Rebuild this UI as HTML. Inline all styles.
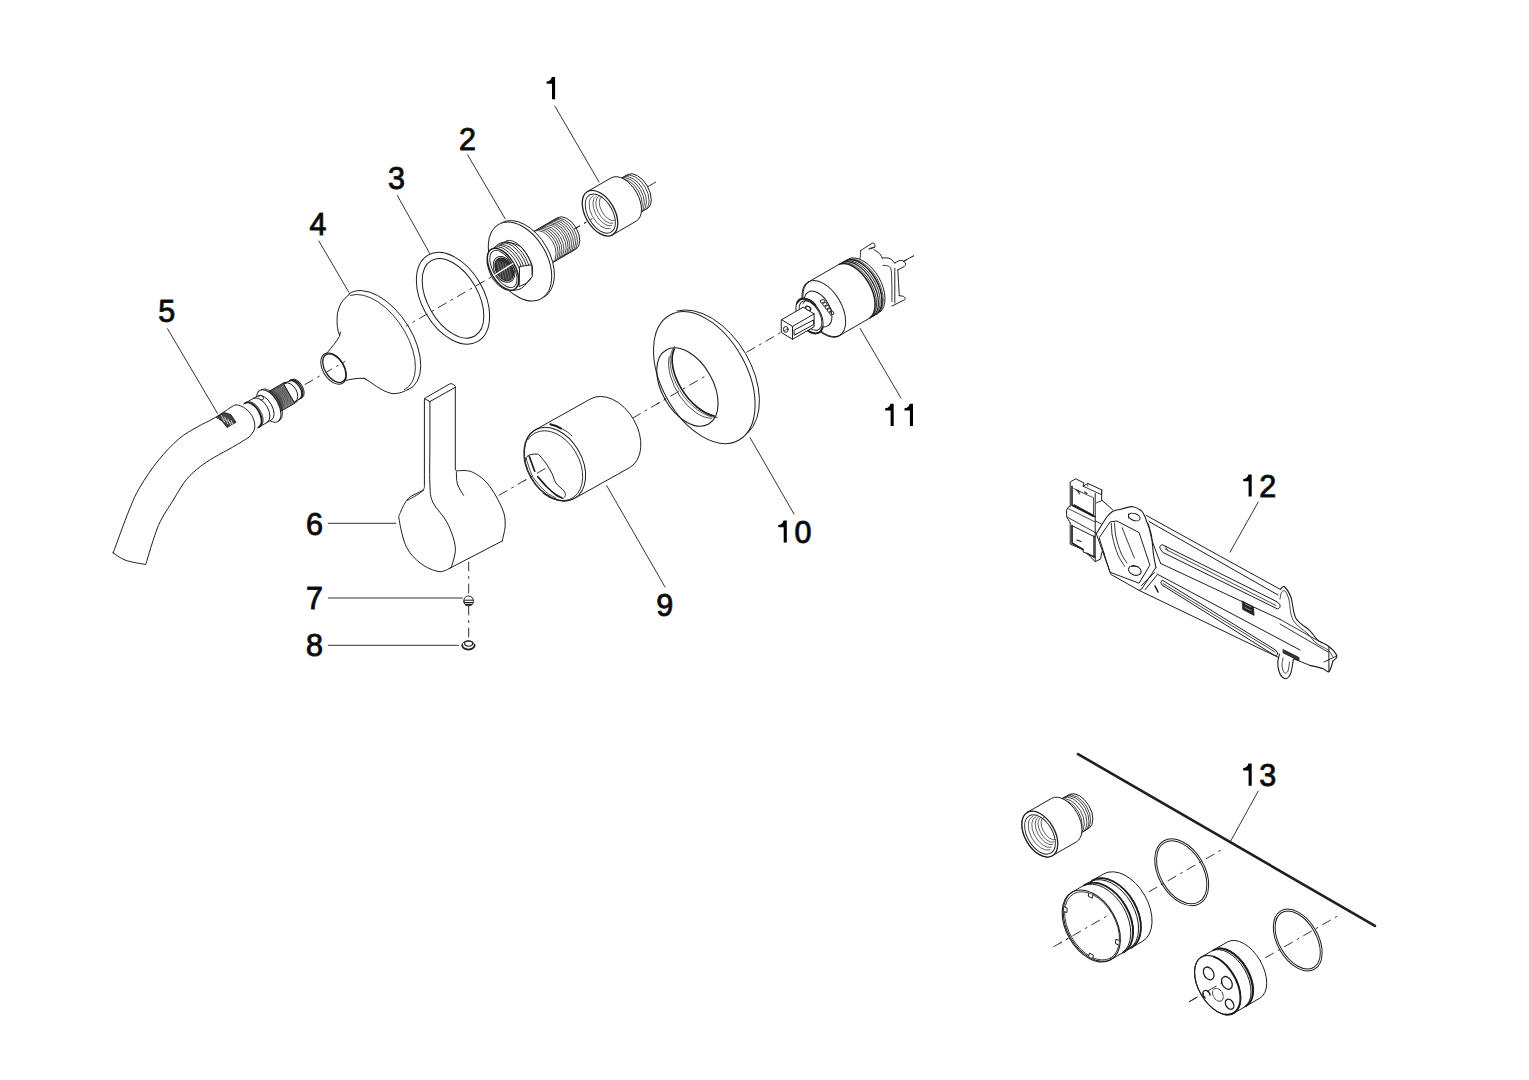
<!DOCTYPE html>
<html><head><meta charset="utf-8"><style>
html,body{margin:0;padding:0;background:#fff;width:1529px;height:1080px;overflow:hidden}
svg{position:absolute;left:0;top:0}
text{font-family:"Liberation Sans",sans-serif;font-size:30.5px;fill:#000}
</style></head><body>
<svg width="1529" height="1080" viewBox="0 0 1529 1080" stroke="#1e1e1e" stroke-linecap="round" stroke-linejoin="round" fill="none">
<line x1="305" y1="384.5" x2="660" y2="179.6" stroke-width="0.9" stroke-dasharray="9 5.5 2 5.5" stroke-dashoffset="0"/>
<line x1="499.1" y1="495.2" x2="913.5" y2="255.9" stroke-width="0.9" stroke-dasharray="9 5.5 2 5.5" stroke-dashoffset="0"/>
<line x1="468.7" y1="562" x2="468.7" y2="640" stroke-width="0.9" stroke-dasharray="9 5.5 2 5.5" stroke-dashoffset="0"/>
<line x1="1053.7" y1="946.7" x2="1222.8" y2="849.1" stroke-width="0.9" stroke-dasharray="9 5.5 2 5.5" stroke-dashoffset="0"/>
<line x1="1189.3" y1="1001.7" x2="1338.9" y2="915.3" stroke-width="0.9" stroke-dasharray="9 5.5 2 5.5" stroke-dashoffset="0"/>
<path d="M5.2 0 L8.5 0 L8.5 22.2 L5.4 22.2 L5.4 6.8 L0 6.8 L0 4.5 C2.6 4.4 4.6 3.0 5.2 0 Z" transform="translate(546.6 77)" fill="#000" stroke="none"/>
<text x="458.9" y="149.6">2</text>
<text x="387.9" y="189.4">3</text>
<text x="309.4" y="234.9">4</text>
<text x="158.2" y="321.9">5</text>
<text x="305.9" y="535">6</text>
<text x="305.9" y="609">7</text>
<text x="305.9" y="656.1">8</text>
<text x="656.3" y="615.9">9</text>
<path d="M5.2 0 L8.5 0 L8.5 22.2 L5.4 22.2 L5.4 6.8 L0 6.8 L0 4.5 C2.6 4.4 4.6 3.0 5.2 0 Z" transform="translate(778.3 520.4)" fill="#000" stroke="none"/>
<text x="794.4" y="542.9">0</text>
<path d="M5.2 0 L8.5 0 L8.5 22.2 L5.4 22.2 L5.4 6.8 L0 6.8 L0 4.5 C2.6 4.4 4.6 3.0 5.2 0 Z" transform="translate(885.2 403.7)" fill="#000" stroke="none"/>
<path d="M5.2 0 L8.5 0 L8.5 22.2 L5.4 22.2 L5.4 6.8 L0 6.8 L0 4.5 C2.6 4.4 4.6 3.0 5.2 0 Z" transform="translate(904.5 403.7)" fill="#000" stroke="none"/>
<path d="M5.2 0 L8.5 0 L8.5 22.2 L5.4 22.2 L5.4 6.8 L0 6.8 L0 4.5 C2.6 4.4 4.6 3.0 5.2 0 Z" transform="translate(1243.2 474.4)" fill="#000" stroke="none"/>
<text x="1259.3" y="496.9">2</text>
<path d="M5.2 0 L8.5 0 L8.5 22.2 L5.4 22.2 L5.4 6.8 L0 6.8 L0 4.5 C2.6 4.4 4.6 3.0 5.2 0 Z" transform="translate(1243.2 763.6)" fill="#000" stroke="none"/>
<text x="1259.3" y="786.1">3</text>
<line x1="554.9" y1="106.1" x2="599" y2="182" stroke-width="0.9" />
<line x1="467.6" y1="154.8" x2="505.2" y2="218.9" stroke-width="0.9" />
<line x1="397.3" y1="195.4" x2="429.8" y2="253.6" stroke-width="0.9" />
<line x1="318.9" y1="241" x2="348.8" y2="292.2" stroke-width="0.9" />
<line x1="167.5" y1="328.7" x2="217.5" y2="413.4" stroke-width="0.9" />
<line x1="328.3" y1="523.3" x2="395.8" y2="523.3" stroke-width="0.9" />
<line x1="328.3" y1="598" x2="462.5" y2="598" stroke-width="0.9" />
<line x1="328.3" y1="645.3" x2="458.3" y2="645.3" stroke-width="0.9" />
<line x1="665" y1="587" x2="606.7" y2="485.6" stroke-width="0.9" />
<line x1="794" y1="514" x2="750" y2="437.5" stroke-width="0.9" />
<line x1="901" y1="398.2" x2="860" y2="328.3" stroke-width="0.9" />
<line x1="1258.2" y1="502.1" x2="1230" y2="552.2" stroke-width="0.9" />
<line x1="1258.2" y1="791.1" x2="1230.9" y2="840.7" stroke-width="0.9" />
<line x1="1078" y1="754.1" x2="1375" y2="925.9" stroke-width="2.6" />
<ellipse cx="453" cy="298.3" rx="49.8" ry="31" transform="rotate(60 453 298.3)" fill="none" stroke-width="1.0" />
<ellipse cx="453" cy="298.3" rx="43.5" ry="25.2" transform="rotate(60 453 298.3)" fill="none" stroke-width="1.0" />
<ellipse cx="1181.7" cy="872.3" rx="36.2" ry="23.1" transform="rotate(60 1181.7 872.3)" fill="none" stroke-width="1.0" />
<ellipse cx="1181.7" cy="872.3" rx="34.2" ry="21.3" transform="rotate(60 1181.7 872.3)" fill="none" stroke-width="1.0" />
<ellipse cx="1297.7" cy="940" rx="33.7" ry="20.4" transform="rotate(60 1297.7 940)" fill="none" stroke-width="1.0" />
<ellipse cx="1297.7" cy="940" rx="31.7" ry="18.6" transform="rotate(60 1297.7 940)" fill="none" stroke-width="1.0" />
<path d="M349.4 294.4 C343 299 338 306 337.2 316 C336.8 324 337.5 330 339.4 334.6 C337 340 332 347 326.7 353.3 L321 362 L340 384.4 L343.3 381.1 C350 379 358 378 364.4 378.3 C372 382 380 391 392 393.6 C400 394 405 391 408 389.4 L419 370 L418 350 L400 315 L380 300 L362 291 Z" stroke-width="0" fill="#fff" stroke="none"/>
<path d="M349 293.8A56.5 31.5 57 1 1 408 389.8" stroke-width="1" fill="none" />
<path d="M350.7 295.4A54.5 30 57 0 1 404.4 389.7" stroke-width="0.9" fill="none" />
<path d="M349.4 294.4 C343 299 338 306 337.2 316 C336.8 324 337.2 330 339.6 335.4" stroke-width="1" fill="none" />
<path d="M340.5 332 L339.4 336.5 C337 341 332 347 326.7 353.3" stroke-width="1" fill="none" />
<path d="M343.3 381.1 C350 379 358 378 364.4 378.3 L366.5 379.8 M364 378.3 C372 382 380 391 392 393.6 C400 394 405 391 408 389.4" stroke-width="1" fill="none" />
<ellipse cx="333.6" cy="368.6" rx="17.2" ry="10.6" transform="rotate(58 333.6 368.6)" fill="#fff" stroke-width="1.0" />
<ellipse cx="334.3" cy="368.2" rx="15.8" ry="9.4" transform="rotate(58 334.3 368.2)" fill="none" stroke-width="1.3" />
<line x1="327" y1="371.8" x2="345" y2="361.4" stroke-width="0.9" stroke-dasharray="9 5.5 2 5.5" stroke-dashoffset="25.4"/>
<path d="M532.4 232.2 L557.5 217.7 L557.5 217.7A18.2 11 60 0 1 575.7 249.3 L550.6 263.8 Z" stroke-width="1" fill="#fff" />
<path d="M534.3 231.1A18.2 11 60 0 1 552.5 262.6" stroke-width="0.8" fill="none" />
<path d="M536.3 230A18.2 11 60 0 1 554.5 261.5" stroke-width="0.8" fill="none" />
<path d="M538.2 228.9A18.2 11 60 0 1 556.4 260.4" stroke-width="0.8" fill="none" />
<path d="M540.1 227.8A18.2 11 60 0 1 558.3 259.3" stroke-width="0.8" fill="none" />
<path d="M542.1 226.7A18.2 11 60 0 1 560.3 258.2" stroke-width="0.8" fill="none" />
<path d="M544 225.5A18.2 11 60 0 1 562.2 257.1" stroke-width="0.8" fill="none" />
<path d="M545.9 224.4A18.2 11 60 0 1 564.1 256" stroke-width="0.8" fill="none" />
<path d="M547.9 223.3A18.2 11 60 0 1 566.1 254.8" stroke-width="0.8" fill="none" />
<path d="M549.8 222.2A18.2 11 60 0 1 568 253.7" stroke-width="0.8" fill="none" />
<path d="M551.7 221.1A18.2 11 60 0 1 569.9 252.6" stroke-width="0.8" fill="none" />
<path d="M553.7 220A18.2 11 60 0 1 571.9 251.5" stroke-width="0.8" fill="none" />
<path d="M555.6 218.9A18.2 11 60 0 1 573.8 250.4" stroke-width="0.8" fill="none" />
<path d="M501.4 222.8A42.8 27 60 0 1 544.2 297" stroke-width="1" fill="#fff"/>
<ellipse cx="520" cy="261.5" rx="42.8" ry="27" transform="rotate(60 520 261.5)" fill="#fff" stroke-width="1" />
<path d="M487.8 258.3C488.8 255.3 491.3 250.7 494 248C496.7 245.3 499.8 242.6 503.9 242.2C508 241.8 515 243.5 518.9 245.6C522.8 247.7 524.8 251.6 527 255C529.2 258.4 531.4 262.5 532.2 266.1C533 269.7 532.7 273.7 531.7 276.7C530.7 279.7 528.1 281.9 526 284C523.9 286.1 522.4 288.5 518.9 289.4C515.4 290.3 509.3 291.1 505 289.4C500.7 287.7 496.2 283.3 493.3 279.4C490.4 275.5 488.7 269.6 487.8 266.1C486.9 262.6 486.8 261.3 487.8 258.3Z" stroke-width="1.0" fill="#fff" />
<path d="M495 247.3A23 12 60 0 1 520.7 274.2" stroke-width="0.9" fill="none" />
<path d="M497.3 246A23 12 60 0 1 523 272.9" stroke-width="0.9" fill="none" />
<path d="M499.6 244.7A23 12 60 0 1 525.2 271.6" stroke-width="0.9" fill="none" />
<path d="M501.8 243.4A23 12 60 0 1 527.5 270.3" stroke-width="0.9" fill="none" />
<path d="M504.1 242.1A23 12 60 0 1 529.7 269" stroke-width="0.9" fill="none" />
<path d="M506.3 240.8A23 12 60 0 1 532 267.7" stroke-width="0.9" fill="none" />
<path d="M520 266.5 L531.8 264.8 L532.2 276.7 L526 283.5 L519.5 286.5 Z" stroke-width="1.0" fill="#fff" />
<ellipse cx="503" cy="269.2" rx="23.2" ry="12.2" transform="rotate(60 503 269.2)" fill="#fff" stroke-width="1.5" />
<ellipse cx="503.4" cy="269" rx="20.6" ry="10.2" transform="rotate(60 503.4 269)" fill="none" stroke-width="0.9" />
<ellipse cx="504.2" cy="269.4" rx="12.2" ry="8.2" transform="rotate(60 504.2 269.4)" fill="#333" stroke-width="1" />
<line x1="497" y1="261" x2="501" y2="278" stroke-width="0.6" stroke="#999"/>
<line x1="499.8" y1="262" x2="503.8" y2="279" stroke-width="0.6" stroke="#999"/>
<line x1="502.6" y1="263" x2="506.6" y2="280" stroke-width="0.6" stroke="#999"/>
<line x1="505.4" y1="264" x2="509.4" y2="281" stroke-width="0.6" stroke="#999"/>
<line x1="508.2" y1="265" x2="512.2" y2="282" stroke-width="0.6" stroke="#999"/>
<ellipse cx="504" cy="269.4" rx="13.8" ry="9.6" transform="rotate(60 504 269.4)" fill="none" stroke-width="0.9" />
<line x1="494" y1="275.5" x2="513" y2="263.5" stroke-width="1.4" stroke="#fff"/>
<path d="M612.7 183.2 L627.4 174.7 L627.4 174.7A19.6 11.6 60 0 1 647 208.7 L632.3 217.2 Z" stroke-width="1" fill="#fff" />
<path d="M614.8 182A19.6 11.6 60 0 1 634.4 216" stroke-width="0.8" fill="none" />
<path d="M616.9 180.8A19.6 11.6 60 0 1 636.5 214.7" stroke-width="0.8" fill="none" />
<path d="M619 179.6A19.6 11.6 60 0 1 638.6 213.5" stroke-width="0.8" fill="none" />
<path d="M621.1 178.4A19.6 11.6 60 0 1 640.7 212.3" stroke-width="0.8" fill="none" />
<path d="M623.2 177.2A19.6 11.6 60 0 1 642.8 211.1" stroke-width="0.8" fill="none" />
<path d="M625.3 175.9A19.6 11.6 60 0 1 644.9 209.9" stroke-width="0.8" fill="none" />
<path d="M587.5 191.5 L611.3 177.8 L611.3 177.8A25 14.6 60 0 1 636.3 221.1 L612.5 234.9 Z" stroke-width="1" fill="#fff" />
<ellipse cx="600" cy="213.2" rx="25" ry="14.6" transform="rotate(60 600 213.2)" fill="#fff" stroke-width="1.3" />
<ellipse cx="600.3" cy="213.6" rx="21.5" ry="12.2" transform="rotate(60 600.3 213.6)" fill="none" stroke-width="0.9" />
<path d="M610.2 228.6A18.5 10.4 60 0 1 593.3 195.8" stroke-width="0.7" fill="none" />
<path d="M611.6 225.8A16.8 9.2 60 0 1 596.2 196.1" stroke-width="0.7" fill="none" />
<path d="M613 223.2A15.2 8.1 60 0 1 599.1 196.2" stroke-width="0.7" fill="none" />
<path d="M614.5 220.5A13.6 7 60 0 1 602 196.4" stroke-width="0.7" fill="none" />
<line x1="574" y1="229.2" x2="592" y2="218.8" stroke-width="0.9" stroke-dasharray="9 5.5 2 5.5" stroke-dashoffset="310.6"/>
<path d="M268.7 391.5 L283.9 382.7 L283.9 382.7A11.6 6.6 60 0 1 295.5 402.8 L280.3 411.5 Z" stroke-width="1.0" fill="#555" />
<path d="M274.8 390.4A11.6 6.6 60 0 1 283.6 408.8" stroke-width="0.5" fill="none" stroke="#aaa"/>
<path d="M276.2 389.5A11.6 6.6 60 0 1 285.1 408" stroke-width="0.5" fill="none" stroke="#aaa"/>
<path d="M277.7 388.7A11.6 6.6 60 0 1 286.6 407.1" stroke-width="0.5" fill="none" stroke="#aaa"/>
<path d="M279.2 387.8A11.6 6.6 60 0 1 288.1 406.3" stroke-width="0.5" fill="none" stroke="#aaa"/>
<path d="M280.6 387A11.6 6.6 60 0 1 289.5 405.4" stroke-width="0.5" fill="none" stroke="#aaa"/>
<path d="M282.1 386.1A11.6 6.6 60 0 1 291 404.6" stroke-width="0.5" fill="none" stroke="#aaa"/>
<path d="M283.6 385.3A11.6 6.6 60 0 1 292.5 403.7" stroke-width="0.5" fill="none" stroke="#aaa"/>
<path d="M285.1 384.4A11.6 6.6 60 0 1 293.9 402.9" stroke-width="0.5" fill="none" stroke="#aaa"/>
<path d="M286.5 383.6A11.6 6.6 60 0 1 295.4 402" stroke-width="0.5" fill="none" stroke="#aaa"/>
<path d="M284 384 L291.8 379.5 L291.8 379.5A10.4 6 60 0 1 302.2 397.5 L294.4 402 Z" stroke-width="1.0" fill="#fff" />
<path d="M285.3 383.2A10.4 6 60 0 1 295.7 401.3" stroke-width="1.0" fill="none" />
<path d="M289.4 380.9A10.4 6 60 0 1 299.8 398.9" stroke-width="1.3" fill="none" />
<path d="M290.6 380.2A10.4 6 60 0 1 301 398.2" stroke-width="1.3" fill="none" />
<ellipse cx="268.8" cy="406" rx="18" ry="9.4" transform="rotate(60 268.8 406)" fill="#fff" stroke-width="1.0" />
<path d="M261.5 389.4A18 9.4 60 0 1 279.5 420.6" stroke-width="0.9" fill="none" />
<path d="M243.6 404 L257.6 396 L257.6 396A13.8 7.6 60 0 1 271.4 420 L257.4 428" stroke-width="1.0" fill="#fff" />
<path d="M245.3 403A13.8 7.6 60 0 1 259.1 427" stroke-width="1.9" fill="none" />
<path d="M249.3 401.7A13.8 7.6 60 0 1 262.3 424.2" stroke-width="0.8" fill="none" />
<path d="M253.6 398.3A13.8 7.6 60 0 1 267.4 422.2" stroke-width="1.0" fill="none" />
<path d="M258 396.5C258.7 396.3 261.1 395.1 262 395.5C262.9 395.9 263.8 398.2 263.5 399C263.2 399.8 261 399.8 260.5 400" stroke-width="0.9" fill="none" />
<path d="M113.2 552.8C115.9 545.7 124.7 521 129.2 510C133.7 499 135.1 495.3 140 487C144.9 478.7 152 468.2 158.5 460.2C165 452.2 172.4 444.4 178.9 438.9C185.4 433.3 191.5 430.4 197.4 426.9C203.3 423.4 208.1 421.7 214.1 418.1C220.1 414.6 230.3 407.7 233.5 405.6 L233.5 405.6C234.1 405.5 235.5 404.6 237.2 404.9C238.9 405.2 241.5 406 243.7 407.4C245.9 408.8 248.7 411.1 250.5 413.5C252.3 415.9 253.8 419.4 254.4 422.1C255 424.9 255 427.5 254.2 430C253.3 432.5 250.1 435.8 249.3 437 L249.3 437C246.5 438.7 238.5 443.8 232.6 447.2C226.7 450.6 219.5 454.1 214.1 457.4C208.7 460.6 204.8 463 200.2 466.7C195.6 470.4 190.8 474.1 186.3 479.6C181.8 485.2 178 492.3 173.3 500C168.7 507.7 163 514.9 158.4 525.6C153.8 536.4 147.8 558 145.7 564.5 L145.7 564.5C142.3 563.8 130.7 562.2 125.3 560.2C119.9 558.2 115.2 554 113.2 552.8Z" stroke-width="1.0" fill="#fff" />
<path d="M216.6 417.1 L224.3 412.6 L230.8 414.6 L236 422.3 L227 427.5 L222.5 421.5 Z" stroke-width="0.9" fill="#444" />
<line x1="221.5" y1="415.5" x2="224.5" y2="422" stroke-width="0.9" stroke="#ddd"/>
<line x1="224.7" y1="417.2" x2="227.7" y2="423.7" stroke-width="0.9" stroke="#ddd"/>
<line x1="227.9" y1="418.9" x2="230.9" y2="425.4" stroke-width="0.9" stroke="#ddd"/>
<line x1="231.1" y1="420.6" x2="234.1" y2="427.1" stroke-width="0.9" stroke="#ddd"/>
<line x1="223" y1="418.5" x2="233" y2="424" stroke-width="0.7" stroke="#ccc"/>
<path d="M456.4 470.8C458.9 471 466.4 469.6 471.6 471.8C476.9 474 482.8 477.9 487.9 484C493 490.1 499.3 501.7 502.2 508.5C505.1 515.3 505.2 519.3 505.2 524.8C505.2 530.2 502.7 538.3 502.2 541 L449.2 568.5 L430 560 L400 520 L410 498 L424.4 484 L424.4 398.5 L451.3 383.2 L455.3 387.3 L455.3 470 Z" stroke-width="0" fill="#fff" stroke="none"/>
<path d="M456.4 470.8C458.9 471 466.4 469.6 471.6 471.8C476.9 474 482.8 477.9 487.9 484C493 490.1 499.3 501.7 502.2 508.5C505.1 515.3 505.2 519.3 505.2 524.8C505.2 530.2 502.7 538.3 502.2 541" stroke-width="1" fill="none" />
<line x1="502.2" y1="541" x2="449.2" y2="568.5" stroke-width="1" />
<path d="M424.4 484 L424.4 400 Q424.6 398 426.5 397.3 L449.5 384 Q451.5 383 453.5 384.5 L455.3 386.5 L455.3 470" stroke-width="1" fill="none" />
<line x1="429.9" y1="401.6" x2="455.3" y2="387.3" stroke-width="1" />
<line x1="424.6" y1="398.6" x2="429.9" y2="401.6" stroke-width="1" />
<path d="M429.9 401.6C429.9 408 429.9 426.3 429.9 440C429.9 453.7 429.4 473.6 429.9 484C430.4 494.4 430 495.9 432.9 502.4C435.8 508.8 443.5 515.2 447.2 522.7C450.9 530.2 454.6 539.7 455.3 547.2C456 554.7 452 564.1 451.3 567.5" stroke-width="1" fill="none" />
<path d="M424.4 484C424.1 485 425.4 487.7 422.8 490.1C420.2 492.5 412.2 494.6 408.5 498.3C404.8 502 401.9 508.8 400.4 512.5C398.9 516.2 398.3 514.9 399.3 520.7C400.3 526.5 402.9 540.1 406.5 547.2C410.1 554.3 415.3 559.3 420.7 563.4C426.1 567.5 433.9 570.9 439 571.6C444.1 572.3 449.2 568.2 451.3 567.5" stroke-width="1" fill="none" />
<path d="M407.5 500.3C409 499.5 413.9 496.9 416.7 495.2C419.4 493.5 422.6 491 423.8 490.1" stroke-width="0.9" fill="none" />
<path d="M456.4 471.8C456.5 473.8 456.2 480.1 457.4 484C458.6 487.9 462.5 493.4 463.5 495.2" stroke-width="1" fill="none" />
<path d="M463.8 601.5 C463.6 597.8 466 596 468.6 596 C471.2 596 473.6 597.8 473.4 601.5 C473.2 604.5 471.2 605.8 468.6 605.8 C466 605.8 464 604.5 463.8 601.5 Z" stroke-width="1.0" fill="#fff" />
<line x1="464.3" y1="600.2" x2="472.9" y2="600.2" stroke-width="1.0" />
<line x1="464.5" y1="602.6" x2="472.7" y2="602.6" stroke-width="1.3" />
<line x1="465.5" y1="604.6" x2="471.7" y2="604.6" stroke-width="1.3" />
<ellipse cx="468.4" cy="645.2" rx="6.2" ry="4.4" transform="rotate(0 468.4 645.2)" fill="#fff" stroke-width="1.0" />
<path d="M474.6 645.2A6.2 4.4 0 0 1 462.2 645.2" stroke-width="1.8" fill="none" />
<ellipse cx="468.6" cy="643.6" rx="4" ry="2.6" transform="rotate(0 468.6 643.6)" fill="none" stroke-width="1.1" />
<path d="M535 430 L590.2 399.1 L590.2 399.1A39.5 27.4 60 0 1 629.8 467.5 L574.5 498.4 L574.5 498.4A39.5 27.4 60 0 1 535 430Z" stroke-width="1.0" fill="#fff" />
<ellipse cx="554.7" cy="464.2" rx="39.5" ry="27.4" transform="rotate(60 554.7 464.2)" fill="none" stroke-width="1.0" />
<path d="M527.9 439.6A37.6 26.1 60 1 1 543.1 493.3" stroke-width="0.9" fill="none" />
<path d="M524.5 461C524.9 460.2 526 457.6 527 456.5C528 455.4 529.2 455 530.7 454.6C532.2 454.2 534.7 454 536 454C537.3 454 537.9 454.2 538.6 454.6C539.4 455 540.2 456.2 540.5 456.5" stroke-width="1.0" fill="none" />
<path d="M540.5 456.5C541.5 457.8 544.6 461.3 546.5 464.1C548.4 466.9 550.4 470.4 552 473.5C553.6 476.6 553.9 480.1 555.9 483C557.9 485.9 562.2 488.7 563.8 490.8C565.4 492.9 565.5 494.2 565.4 495.5C565.3 496.8 563.4 498 563 498.5" stroke-width="1.0" fill="none" />
<line x1="529.2" y1="456.2" x2="534.7" y2="471.2" stroke-width="1.7" />
<path d="M537.8 476.7C539.3 478.4 544 484 547 487C550 490 553.4 493 555.9 494.8C558.4 496.6 561 497.5 562 498" stroke-width="1.7" fill="none" />
<path d="M526 458C526.8 460.5 529.5 469.3 531 473C532.5 476.7 532.5 476.8 535 480C537.5 483.2 542.5 489 546 492C549.5 495 554.3 497 556 498" stroke-width="0.8" fill="none" />
<path d="M550.4 424.3C551.7 424.8 555.4 425.9 558 427C560.6 428.1 563.7 429.6 566 431C568.3 432.4 570.8 434.9 571.7 435.7" stroke-width="0.9" fill="none" />
<path d="M550.4 424.3C551.3 424.6 554.2 425.3 556 426C557.8 426.7 560.2 428.1 561 428.5" stroke-width="2.0" fill="none" />
<line x1="524" y1="480.8" x2="546" y2="468.1" stroke-width="0.9" stroke-dasharray="9 5.5 2 5.5" stroke-dashoffset="28.8"/>
<ellipse cx="706.5" cy="375.2" rx="71.3" ry="44.6" transform="rotate(59 706.5 375.2)" fill="#fff" stroke-width="0" stroke="none"/>
<ellipse cx="704.3" cy="377.6" rx="71.4" ry="42.7" transform="rotate(61.3 704.3 377.6)" fill="#fff" stroke-width="1.0" />
<path d="M677 311A71.3 44.6 59 0 1 748.2 432.5" stroke-width="1.0" fill="none" />
<ellipse cx="687.4" cy="387" rx="42.7" ry="25.5" transform="rotate(60.2 687.4 387)" fill="none" stroke-width="1.1" />
<path d="M674.2 349.2A42.7 23.7 56 0 0 714.2 416" stroke-width="1.7" fill="none" />
<path d="M674.4 346.6A42.7 23.7 56 0 0 717.2 417.4" stroke-width="0.7" fill="none" />
<path d="M669.2 356.7A41 22.6 58.7 0 0 711.7 418.3" stroke-width="0.8" fill="none" />
<line x1="657" y1="404" x2="704" y2="376.9" stroke-width="0.9" stroke-dasharray="9 5.5 2 5.5" stroke-dashoffset="182.3"/>
<path d="M860.7 250.6 L871.1 243.9 L874.4 243.5 L875.2 246.9 L874.8 249.8 L882.2 258 L894.8 263.1 L901.5 260.2 L905.6 263.5 L904.4 266.5 L899.3 269.8 L899.3 295.7 L905.2 296.9 L905.6 299.4 L891.9 306.1 L881.5 309.1 L860 259.4 Z" stroke-width="0" fill="#fff" />
<path d="M860.7 250.6C862.5 249.4 868.9 245.1 871.1 243.9C873.3 242.7 873.4 242.9 874.1 243.3C874.7 243.7 875 245.4 875.1 246.1C875.2 246.8 874.7 247.2 874.7 247.4 L874.7 247.4C873.8 247.7 870.5 248.8 869.6 249.1" stroke-width="1.0" fill="none" />
<path d="M868.9 248.7C869.8 248.4 873.2 247.2 874.1 246.9" stroke-width="0.9" fill="none" />
<path d="M874.1 249.8C874.8 250.2 877 251.5 878.1 252.4C879.3 253.3 880.1 254.1 880.7 255C881.4 255.9 882 257.5 882.2 258" stroke-width="1.0" fill="none" />
<path d="M882.2 258C883.2 258 886.5 257.7 888.1 258C889.8 258.3 890.7 259 891.9 259.8C893 260.7 894.3 262.6 894.8 263.1" stroke-width="1.0" fill="none" />
<path d="M894.8 263.1C895.4 262.8 897.3 261.4 898.5 260.9C899.8 260.5 901.1 260.2 902.2 260.6C903.3 260.9 904.7 262 905.2 262.8C905.7 263.6 905.6 264.6 905.2 265.4C904.8 266.1 904.2 266.5 903 267.2C901.7 268 898.6 269.4 897.8 269.8" stroke-width="1.0" fill="none" />
<path d="M897.8 269.8C897.9 271.9 898.3 278.1 898.5 282.4C898.8 286.7 899.1 293.5 899.3 295.7" stroke-width="1.0" fill="none" />
<path d="M894.8 268.3C894.8 271.4 894.8 281 894.8 286.9C894.8 292.7 894.8 300.4 894.8 303.1" stroke-width="1.0" fill="none" />
<path d="M899.3 295.7C900 295.9 902.7 296 903.7 296.5C904.7 297 905.2 298.1 905.2 298.7C905.2 299.3 905.9 299 903.7 300.2C901.5 301.4 893.8 305.1 891.9 306.1" stroke-width="1.0" fill="none" />
<path d="M883 265.4C883.8 265.5 886.8 265.4 888.1 266.1C889.5 266.9 890.5 266.4 891.1 269.8C891.7 273.3 891.7 281.5 891.9 286.9C892 292.2 891.9 299.2 891.9 301.7" stroke-width="0.9" fill="none" />
<path d="M860.7 250.6C860.6 252 860.1 258 860 259.4" stroke-width="0.9" fill="none" />
<line x1="913.5" y1="255.9" x2="903.5" y2="261.2" stroke-width="0.9" />
<path d="M808.3 282.1 L845.5 260.6 L845.5 260.6A31 17.8 60 0 1 876.5 314.2 L839.3 335.7 L839.3 335.7A31 17.8 60 0 1 808.3 282.1Z" stroke-width="1.0" fill="#fff" />
<path d="M839.1 264.4A31 17.8 60 0 1 870 317.9" stroke-width="1.5" fill="none" />
<path d="M840.7 263.5A31 17.8 60 0 1 871.6 317" stroke-width="0.9" fill="none" />
<path d="M842.4 262.5A31 17.8 60 0 1 873.3 316" stroke-width="1.2" fill="none" />
<path d="M844.2 261.5A31 17.8 60 0 1 875.1 315" stroke-width="0.9" fill="none" />
<path d="M845.9 260.5A31 17.8 60 0 1 876.8 314" stroke-width="1.3" fill="none" />
<path d="M847.5 259.6A31 17.8 60 0 1 878.3 313.1" stroke-width="0.8" fill="none" />
<path d="M849.1 258.6A31 17.8 60 0 1 880 312.1" stroke-width="1.0" fill="none" />
<ellipse cx="823.8" cy="308.9" rx="31" ry="17.8" transform="rotate(60 823.8 308.9)" fill="none" stroke-width="1.0" />
<ellipse cx="818" cy="309" rx="19.5" ry="11.5" transform="rotate(60 818 309)" fill="#fff" stroke-width="1.0" />
<path d="M820.5 300.5 L823.7 299.2 L824.9 301.8 L821.7 303.1 Z" stroke-width="0.9" fill="none" />
<path d="M822.8 303.5 L826 302.2 L827.2 304.8 L824 306.1 Z" stroke-width="0.9" fill="none" />
<path d="M825.1 306.5 L828.3 305.2 L829.5 307.8 L826.3 309.1 Z" stroke-width="0.9" fill="none" />
<path d="M827.4 309.5 L830.6 308.2 L831.8 310.8 L828.6 312.1 Z" stroke-width="0.9" fill="none" />
<path d="M829.7 312.5 L832.9 311.2 L834.1 313.8 L830.9 315.1 Z" stroke-width="0.9" fill="none" />
<ellipse cx="809.5" cy="316" rx="19" ry="11.2" transform="rotate(60 809.5 316)" fill="#fff" stroke-width="1.0" />
<path d="M797.3 302.5A19 11.2 60 0 1 815.4 305.1" stroke-width="2.0" fill="none" />
<path d="M822.6 327.4A19 11.2 60 0 1 805.9 329.1" stroke-width="2.0" fill="none" />
<ellipse cx="810.5" cy="315.5" rx="16.2" ry="9.2" transform="rotate(60 810.5 315.5)" fill="none" stroke-width="0.9" />
<path d="M803 304C803.5 303.3 804.7 300.6 806 300C807.3 299.4 809.5 299.5 811 300.5C812.5 301.5 814.3 305.1 815 306" stroke-width="0.9" fill="none" />
<ellipse cx="808" cy="308.5" rx="2.8" ry="2" transform="rotate(30 808 308.5)" fill="none" stroke-width="1.4" />
<path d="M781.6 319.7 L803.2 307.2 L814.1 313.9 L814.1 326.8 L792.5 339.3 L781.6 332.6 Z" stroke-width="1.0" fill="#fff" />
<path d="M781.6 319.7 L792.5 326.4 L792.5 339.3" stroke-width="1.0" fill="none" />
<line x1="792.5" y1="326.4" x2="814.1" y2="313.9" stroke-width="1.0" />
<path d="M794.3 330 L813.5 320 L813.8 324.5 L794.6 335 Z" stroke-width="1.0" fill="none" />
<ellipse cx="785.8" cy="329.4" rx="2.4" ry="2.9" transform="rotate(0 785.8 329.4)" fill="none" stroke-width="1.0" />
<line x1="784.5" y1="330.5" x2="787.5" y2="328.5" stroke-width="0.7" />
<path d="M1070.5 480.8 L1075.9 479 L1100.6 489.9 L1101.8 491.7 L1101.8 500.1 L1112.6 509.7 L1119.8 509.7 L1133 506.7 L1141.5 510.9 L1146.3 517 L1280.5 589.5 L1284.8 587.5 L1291.1 597.7 L1295.9 618.2 L1310 630.8 L1317.9 640.2 L1328.9 646.5 L1336.8 656 L1328.9 671.7 L1322.6 668.5 L1310 665.4 L1294.3 667 L1291.1 676.4 L1284.8 679.6 L1278.5 674.8 L1277 667 L1278.5 657 L1140 589.8 L1139.1 590.4 L1109 573.5 L1101.8 560 L1095.7 561.5 L1069.9 543.4 Z" stroke-width="0" fill="#fff" />
<path d="M1070.2 506.1 L1070.2 482 L1075.7 478.8 L1084 483 L1083.1 486.2 L1087.8 483.4 L1101.7 489.9 L1101.7 500.6" stroke-width="1.0" fill="none" />
<path d="M1070.2 522.8 L1070.2 544.1 L1083.1 549.6 L1083.1 552 L1086.9 553.3 L1095.2 561.7 L1100.7 558.9 L1101.5 553" stroke-width="1.0" fill="none" />
<line x1="1083.1" y1="486.2" x2="1101.2" y2="494.5" stroke-width="0.9" />
<line x1="1087.8" y1="483.4" x2="1087.8" y2="486" stroke-width="0.8" />
<line x1="1095.2" y1="493.5" x2="1095.2" y2="561.7" stroke-width="1.0" />
<line x1="1101.7" y1="489.9" x2="1101.5" y2="494.5" stroke-width="0.9" />
<path d="M1072 486.2 L1072 505.2 L1093.3 516.3 L1095.2 516.5" stroke-width="1.6" fill="none" />
<path d="M1073.8 488.5 L1083 493 L1093.5 497.8 L1093.5 514.5" stroke-width="0.8" fill="none" />
<line x1="1074" y1="505" x2="1093.3" y2="515.5" stroke-width="1.5" />
<path d="M1070.2 506.1C1069.8 506.4 1068.1 507 1067.5 508C1066.9 509 1066.6 510.5 1066.5 512C1066.4 513.5 1066.5 515.7 1066.8 517C1067.1 518.3 1067.9 519 1068.5 520C1069.1 521 1069.9 522.3 1070.2 522.8" stroke-width="1.0" fill="none" />
<line x1="1067.4" y1="517.2" x2="1096.1" y2="533" stroke-width="0.9" />
<line x1="1068" y1="508.5" x2="1095.2" y2="522" stroke-width="0.8" />
<path d="M1072 525.6 L1094.3 536.7 L1095.2 537" stroke-width="1.0" fill="none" />
<path d="M1072 525.6 L1072 543.1 L1083.1 549.6" stroke-width="1.7" fill="none" />
<path d="M1086.9 553.3 L1094.3 557 L1095.2 557" stroke-width="1.5" fill="none" />
<line x1="1094" y1="536" x2="1094" y2="557" stroke-width="1.4" />
<line x1="1076.5" y1="490" x2="1080" y2="492" stroke-width="1.1" />
<line x1="1084.5" y1="492" x2="1087" y2="493.5" stroke-width="1.1" />
<line x1="1078" y1="491.5" x2="1079.5" y2="494" stroke-width="1.0" />
<line x1="1077" y1="540" x2="1081" y2="541.5" stroke-width="1.2" />
<line x1="1101.7" y1="500.6" x2="1096.1" y2="503" stroke-width="0.9" />
<line x1="1101.8" y1="500.1" x2="1112.6" y2="509.7" stroke-width="1.0" />
<line x1="1095.7" y1="521" x2="1101.5" y2="524" stroke-width="0.9" />
<line x1="1101.8" y1="552" x2="1104.5" y2="553.5" stroke-width="0.9" />
<path d="M1096.2 533.6C1097.2 532.1 1100.1 527.4 1102 524.5C1103.9 521.6 1105.8 518.2 1107.6 516C1109.4 513.8 1111 512.3 1113 511.2C1115 510.1 1118.4 509.8 1119.5 509.5" stroke-width="1.1" fill="none" />
<path d="M1119.8 509.7C1120.8 509.4 1123.6 508.4 1125.8 507.9C1128 507.4 1130.4 506.2 1133 506.7C1135.6 507.2 1139.5 509.2 1141.5 510.9C1143.5 512.6 1144.3 515.4 1145.1 517C1145.9 518.6 1146.1 520 1146.3 520.6" stroke-width="1.1" fill="none" />
<path d="M1146.3 520.6C1147.1 522.8 1149.9 528.2 1151.1 533.8C1152.3 539.4 1152.7 548.7 1153.5 554.3C1154.3 559.9 1155.5 565.3 1155.9 567.5" stroke-width="1.1" fill="none" />
<path d="M1155.9 567.5 L1141.5 589.2 L1139.1 590.4 L1111 574.5 L1096.2 533.6" stroke-width="1.0" fill="none" />
<path d="M1099.4 537.4 L1110.2 521.8 L1117 521 L1139.1 532.6 L1149.9 565.1 L1139.1 583.2 L1110.2 572.3 Z" stroke-width="1.0" fill="none" />
<path d="M1111.4 523.5C1111.6 525.8 1111.4 531.8 1112.5 537C1113.6 542.2 1116 550.1 1118 555C1120 559.9 1123.5 564.4 1124.6 566.3" stroke-width="0.9" fill="none" />
<path d="M1114.5 523C1114.8 525.3 1114.9 532 1116 537C1117.1 542 1119.2 548.7 1121 553C1122.8 557.3 1126 561.3 1127 563" stroke-width="0.9" fill="none" />
<path d="M1122.2 527.8C1123 529.8 1125 535 1127 540C1129 545 1133.1 554.9 1134.3 557.9" stroke-width="0.9" fill="none" />
<ellipse cx="1134.3" cy="517" rx="6" ry="3.4" transform="rotate(20 1134.3 517)" fill="none" stroke-width="1.0" />
<line x1="1128.5" y1="514" x2="1128.5" y2="518" stroke-width="0.9" />
<ellipse cx="1134.8" cy="570.5" rx="6.5" ry="4.6" transform="rotate(20 1134.8 570.5)" fill="none" stroke-width="1.0" />
<line x1="1131" y1="566.5" x2="1138" y2="566.5" stroke-width="0.8" />
<line x1="1146.3" y1="515.5" x2="1280.5" y2="589.5" stroke-width="1.0" />
<line x1="1149" y1="521.5" x2="1278" y2="595" stroke-width="1.0" />
<path d="M1160.7 563.5C1159.2 559.6 1154 546.6 1152 540C1150 533.4 1149.1 526.7 1148.5 524" stroke-width="1.0" fill="none" />
<line x1="1160.7" y1="563.5" x2="1280" y2="619.3" stroke-width="1.0" />
<path d="M1162 544.8 Q1158.5 545.5 1160.5 549.5 L1163 552.5 L1277.4 608.9 Q1281 608 1279.8 604.5 L1277.8 602.3 Z" stroke-width="1.0" fill="none" />
<line x1="1165" y1="549" x2="1276" y2="605.5" stroke-width="0.8" />
<line x1="1165" y1="546" x2="1168" y2="551" stroke-width="0.7" />
<line x1="1141.3" y1="585.6" x2="1154.3" y2="572.6" stroke-width="1.0" />
<line x1="1145.2" y1="589.5" x2="1156.9" y2="575.2" stroke-width="1.0" />
<path d="M1162 580.4 Q1159.5 582.5 1162 585 L1274 655 Q1278 656.5 1277.5 653 L1276 650.5 Z" stroke-width="1.0" fill="none" />
<line x1="1163" y1="583.5" x2="1275" y2="652" stroke-width="0.8" />
<line x1="1157" y1="574" x2="1300" y2="650" stroke-width="1.0" />
<line x1="1139.1" y1="590.4" x2="1278.5" y2="657.5" stroke-width="1.0" />
<path d="M1242.4 601.1 L1253.5 607 L1254.1 615.4 L1243 609.5 Z" stroke-width="0.8" fill="#222" />
<line x1="1245" y1="604" x2="1251" y2="607" stroke-width="0.8" stroke="#aaa"/>
<line x1="1245" y1="607.5" x2="1251" y2="610.5" stroke-width="0.8" stroke="#aaa"/>
<line x1="1155" y1="586" x2="1158" y2="592" stroke-width="1.6" />
<path d="M1280.5 589.5C1280.7 589.2 1280.8 588.4 1281.5 588C1282.2 587.6 1283.2 585.4 1284.8 587C1286.4 588.6 1289.2 592.5 1291.1 597.7C1292.9 602.9 1292.8 612.7 1295.9 618.2C1299.1 623.7 1306.3 627.1 1310 630.8C1313.7 634.5 1314.8 637.6 1317.9 640.2C1321.1 642.8 1325.8 643.9 1328.9 646.5C1332.1 649.1 1336.1 653.6 1336.8 656C1337.5 658.4 1333.6 660.2 1333 661" stroke-width="1.1" fill="none" />
<path d="M1280 599C1280.2 597.9 1280.7 593.8 1281.5 592.5C1282.3 591.2 1283.8 589.8 1285 591C1286.2 592.2 1287.7 595.2 1289 600C1290.3 604.8 1289.8 614.3 1293 620C1296.2 625.7 1304.2 630.2 1308 634C1311.8 637.8 1312.7 640.3 1316 643C1319.3 645.7 1325.2 647.7 1328 650C1330.8 652.3 1332.2 655.8 1333 657" stroke-width="0.8" fill="none" />
<path d="M1333 661C1332.3 662.8 1330.6 670.5 1328.9 671.7C1327.2 673 1325.8 669.5 1322.6 668.5C1319.4 667.5 1312.1 665.9 1310 665.4" stroke-width="1.1" fill="none" />
<line x1="1328.9" y1="646.5" x2="1328.9" y2="671.7" stroke-width="1.0" />
<line x1="1336.8" y1="656" x2="1324" y2="662" stroke-width="0.9" />
<line x1="1280" y1="619.3" x2="1322" y2="643" stroke-width="0.9" />
<line x1="1280" y1="624" x2="1328" y2="652" stroke-width="0.9" />
<path d="M1279.5 654C1279.2 655.3 1277.9 659.2 1277.8 662C1277.7 664.8 1278.2 668.5 1278.9 671C1279.6 673.5 1280.9 675.8 1282.2 677C1283.5 678.2 1285.3 679 1286.7 678.5C1288.1 678 1289.5 676.2 1290.5 674C1291.5 671.8 1292 667.5 1292.5 665C1293 662.5 1293.2 660 1293.3 659" stroke-width="1.1" fill="#fff" />
<path d="M1283 658C1282.8 659.3 1281.8 663.5 1282 666C1282.2 668.5 1283.5 672.2 1284.5 673C1285.5 673.8 1287.2 672.8 1288 671C1288.8 669.2 1289.2 663.5 1289.5 662" stroke-width="0.8" fill="none" />
<path d="M1283.3 649.6 L1299 657.5 L1299 660.7 L1283.3 653 Z" stroke-width="0.8" fill="#333" />
<line x1="1294.3" y1="659.1" x2="1310" y2="665.4" stroke-width="1.0" />
<path d="M1052.5 804.1 L1069.4 794.4 L1069.4 794.4A19.6 11.8 60 0 1 1089 828.3 L1072.1 838.1 L1072.1 838.1A19.6 11.8 60 0 1 1052.5 804.1Z" stroke-width="1.0" fill="#fff" />
<path d="M1054.6 802.9A19.6 11.8 60 0 1 1074.2 836.9" stroke-width="0.8" fill="none" />
<path d="M1056.7 801.7A19.6 11.8 60 0 1 1076.3 835.6" stroke-width="0.8" fill="none" />
<path d="M1058.8 800.5A19.6 11.8 60 0 1 1078.4 834.4" stroke-width="0.8" fill="none" />
<path d="M1060.9 799.3A19.6 11.8 60 0 1 1080.5 833.2" stroke-width="0.8" fill="none" />
<path d="M1063 798A19.6 11.8 60 0 1 1082.6 832" stroke-width="0.8" fill="none" />
<path d="M1065.1 796.8A19.6 11.8 60 0 1 1084.7 830.8" stroke-width="0.8" fill="none" />
<path d="M1067.2 795.6A19.6 11.8 60 0 1 1086.8 829.5" stroke-width="0.8" fill="none" />
<path d="M1027.2 812.4 L1051.5 798.4 L1051.5 798.4A25 14.9 60 0 1 1076.5 841.8 L1052.2 855.8 L1052.2 855.8A25 14.9 60 0 1 1027.2 812.4Z" stroke-width="1.0" fill="#fff" />
<ellipse cx="1039.8" cy="834.1" rx="25" ry="14.9" transform="rotate(60 1039.8 834.1)" fill="#fff" stroke-width="1.3" />
<ellipse cx="1040" cy="834.5" rx="21.6" ry="12.6" transform="rotate(60 1040 834.5)" fill="none" stroke-width="0.9" />
<path d="M1050 849.8A18.8 10.8 60 0 1 1032.9 816.4" stroke-width="0.7" fill="none" />
<path d="M1051.3 847.2A17.2 9.6 60 0 1 1035.6 816.7" stroke-width="0.7" fill="none" />
<path d="M1052.6 844.6A15.6 8.5 60 0 1 1038.3 817" stroke-width="0.7" fill="none" />
<path d="M1053.9 842.1A14 7.4 60 0 1 1041 817.2" stroke-width="0.7" fill="none" />
<path d="M1055.2 839.7A12.6 6.5 60 0 1 1043.7 817.3" stroke-width="0.7" fill="none" />
<path d="M1071.9 892.3 L1103.5 874 L1103.5 874A38.9 25 60 0 1 1142.4 941.4 L1110.8 959.6 L1110.8 959.6A38.9 25 60 0 1 1071.9 892.3Z" stroke-width="1.0" fill="#fff" />
<path d="M1083.2 885.8A38.9 25 60 0 1 1122.1 953.1" stroke-width="1.0" fill="none" />
<path d="M1084.5 885A38.9 25 60 0 1 1123.4 952.4" stroke-width="1.8" fill="none" />
<path d="M1085.8 884.3A38.9 25 60 0 1 1124.7 951.6" stroke-width="1.0" fill="none" />
<path d="M1091 881.3A38.9 25 60 0 1 1129.9 948.6" stroke-width="1.0" fill="none" />
<path d="M1092.3 880.5A38.9 25 60 0 1 1131.2 947.9" stroke-width="1.8" fill="none" />
<path d="M1093.6 879.8A38.9 25 60 0 1 1132.5 947.1" stroke-width="1.0" fill="none" />
<ellipse cx="1091.3" cy="926" rx="38.9" ry="25" transform="rotate(60 1091.3 926)" fill="none" stroke-width="1.1" />
<ellipse cx="1092.1" cy="925.9" rx="37.1" ry="23.4" transform="rotate(60 1092.1 925.9)" fill="none" stroke-width="0.8" />
<path d="M1088.6 893.2 L1088.3 896.3 L1092.2 898.2 L1092.9 895.1" stroke-width="1.0" fill="#fff" />
<path d="M1063.9 911.6 L1066.9 912.5 L1067.2 908.3 L1064.4 906.9" stroke-width="1.0" fill="#fff" />
<path d="M1118.8 940.2 L1115.8 939.3 L1115.5 943.5 L1118.3 944.9" stroke-width="1.0" fill="#fff" />
<path d="M1092.9 958.2 L1093.3 955.1 L1089.4 953.1 L1088.6 956.1" stroke-width="1.0" fill="#fff" />
<line x1="1060" y1="943.1" x2="1110" y2="914.2" stroke-width="0.9" stroke-dasharray="9 5.5 2 5.5" stroke-dashoffset="7.3"/>
<path d="M1201.4 957 L1227.4 942 L1227.4 942A32.4 19 60 0 1 1259.8 998.2 L1233.8 1013.2 L1233.8 1013.2A32.4 19 60 0 1 1201.4 957Z" stroke-width="1.0" fill="#fff" />
<path d="M1212.2 950.8A32.4 19 60 0 1 1244.6 1006.9" stroke-width="1.0" fill="none" />
<path d="M1213.5 950A32.4 19 60 0 1 1245.9 1006.2" stroke-width="1.8" fill="none" />
<path d="M1214.8 949.3A32.4 19 60 0 1 1247.2 1005.4" stroke-width="1.0" fill="none" />
<ellipse cx="1217.6" cy="985.1" rx="32.4" ry="19" transform="rotate(60 1217.6 985.1)" fill="none" stroke-width="1.1" />
<path d="M1213.8 956.7A32.4 19 60 0 1 1225.3 1014.5" stroke-width="1.9" fill="none" />
<ellipse cx="1208.7" cy="973.4" rx="6.8" ry="4.8" transform="rotate(60 1208.7 973.4)" fill="none" stroke-width="1.3" />
<ellipse cx="1226.9" cy="982.9" rx="6.8" ry="4.8" transform="rotate(60 1226.9 982.9)" fill="none" stroke-width="1.3" />
<ellipse cx="1229.6" cy="1004.2" rx="5.4" ry="3.8" transform="rotate(60 1229.6 1004.2)" fill="none" stroke-width="1.4" />
<ellipse cx="1217.9" cy="994.8" rx="7" ry="4.8" transform="rotate(60 1217.9 994.8)" fill="none" stroke-width="0.8" stroke-dasharray="4 1.5"/>
<path d="M1205.2 998A4.5 3.3 60 1 1 1210.1 995.1" stroke-width="1.3" fill="none" />
<line x1="1189.3" y1="1001.7" x2="1222" y2="982.8" stroke-width="0.9" stroke-dasharray="9 5.5 2 5.5" stroke-dashoffset="0"/>
</svg></body></html>
